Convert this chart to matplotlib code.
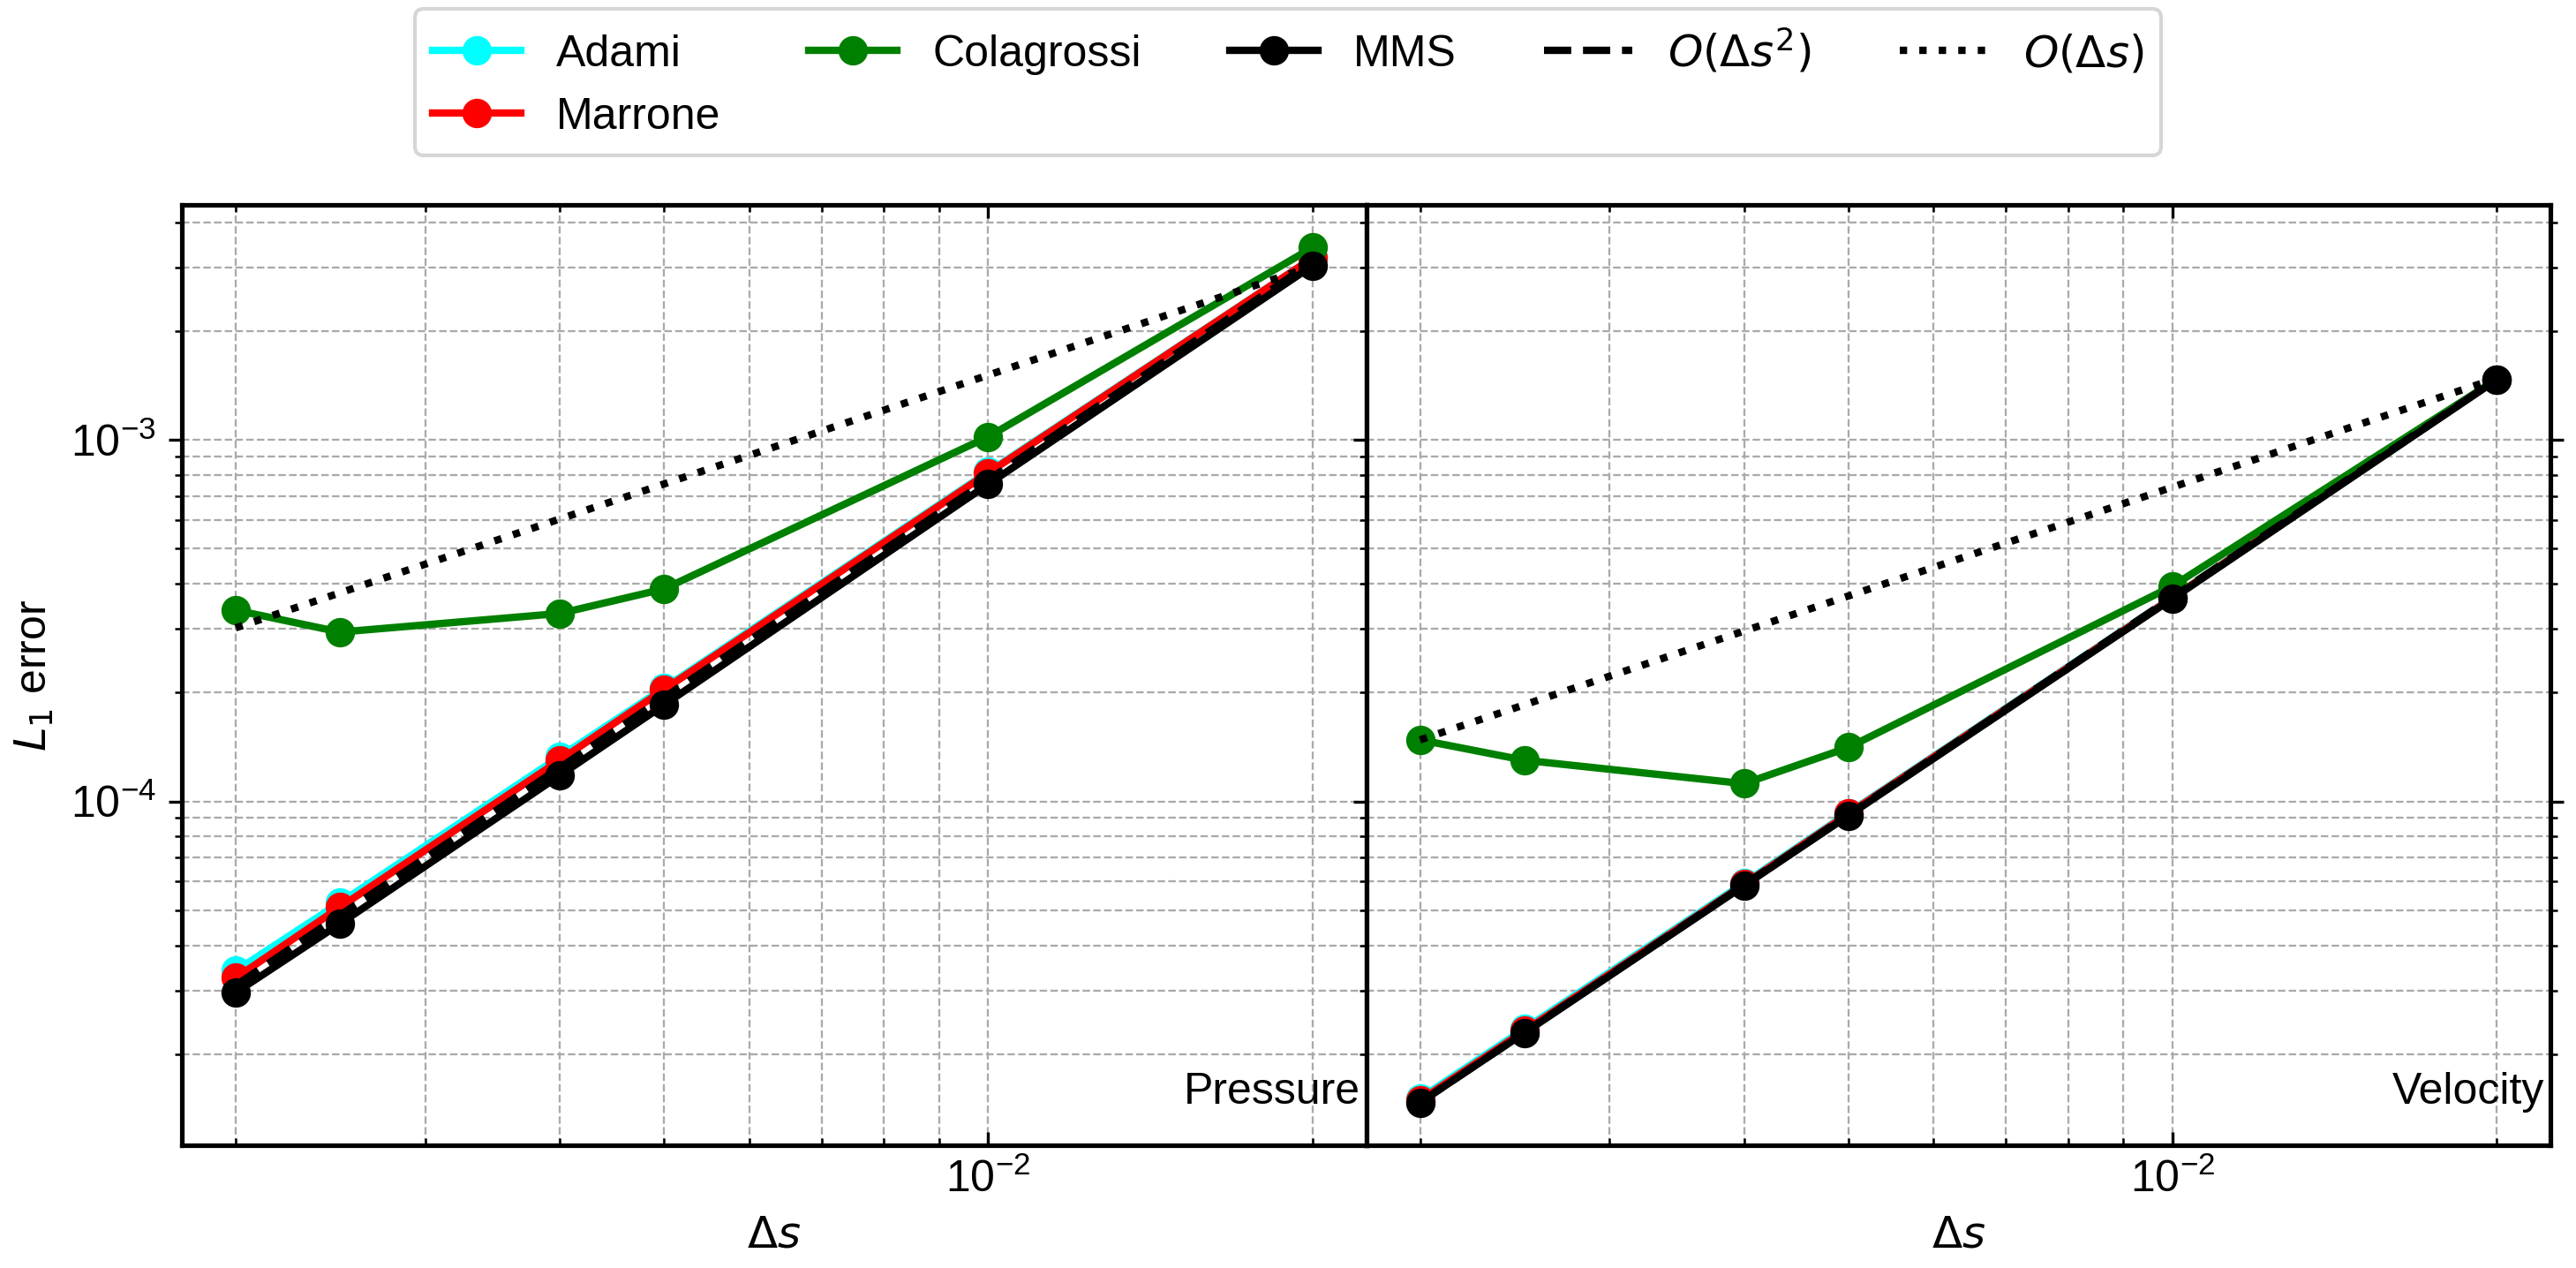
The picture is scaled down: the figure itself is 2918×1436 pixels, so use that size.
import matplotlib
matplotlib.use("Agg")
import matplotlib.pyplot as plt
from matplotlib.ticker import NullFormatter

plt.rcParams['font.family'] = ['Liberation Sans', 'DejaVu Sans']
plt.rcParams['font.size'] = 12
plt.rcParams['axes.linewidth'] = 1.25

# grid spacing used in the convergence study
ds = [0.002, 0.0025, 0.004, 0.005, 0.01, 0.02]

# pressure L1 errors
adami_p = [3.40e-5, 5.25e-5, 1.33e-4, 2.06e-4, 8.15e-4, 3.18e-3]
marrone_p = [3.25e-5, 5.10e-5, 1.30e-4, 2.04e-4, 8.10e-4, 3.18e-3]
colagrossi_p = [3.38e-4, 2.94e-4, 3.31e-4, 3.87e-4, 1.02e-3, 3.40e-3]
mms_p = [2.96e-5, 4.59e-5, 1.18e-4, 1.85e-4, 7.54e-4, 3.03e-3]

# velocity L1 errors
adami_v = [1.51e-5, 2.35e-5, 5.95e-5, 9.30e-5, 3.67e-4, 1.47e-3]
marrone_v = [1.49e-5, 2.32e-5, 5.90e-5, 9.25e-5, 3.66e-4, 1.47e-3]
colagrossi_v = [1.48e-4, 1.30e-4, 1.12e-4, 1.41e-4, 3.94e-4, 1.47e-3]
mms_v = [1.47e-5, 2.29e-5, 5.85e-5, 9.14e-5, 3.64e-4, 1.466e-3]

# reference slopes (end points)
ref_ds = [0.002, 0.02]
ref2_p = [3.10e-5, 3.10e-3]
ref1_p = [3.02e-4, 3.02e-3]
ref2_v = [1.47e-5, 1.47e-3]
ref1_v = [1.48e-4, 1.48e-3]

panels = [
    ("Pressure", adami_p, marrone_p, colagrossi_p, mms_p, ref2_p, ref1_p),
    ("Velocity", adami_v, marrone_v, colagrossi_v, mms_v, ref2_v, ref1_v),
]

fig, axes = plt.subplots(1, 2, figsize=(2918 / 300, 1436 / 300), dpi=300, sharey=True)
fig.subplots_adjust(left=0.0706, right=0.9901, bottom=0.0968, top=0.8384, wspace=0)

for ax, (name, ad, ma, co, mm, r2, r1) in zip(axes, panels):
    ax.loglog(ds, ad, '-o', color='cyan', lw=2, ms=7, label='Adami')
    ax.loglog(ds, ma, '-o', color='red', lw=2, ms=7, label='Marrone')
    ax.loglog(ds, co, '-o', color='green', lw=2, ms=7, label='Colagrossi')
    ax.loglog(ds, mm, '-o', color='black', lw=2, ms=7, label='MMS')
    ax.loglog(ref_ds, r2, '--', color='black', lw=2, label=r'$O(\Delta s^2)$')
    ax.loglog(ref_ds, r1, ':', color='black', lw=2, label=r'$O(\Delta s)$')

    ax.grid(True, which='both', linestyle='--', color='#aaaaaa', linewidth=0.55)
    ax.set_axisbelow(True)
    ax.xaxis.set_minor_formatter(NullFormatter())
    ax.tick_params(axis='x', which='both', direction='in', top=True)
    ax.set_xlabel(r'$\Delta s$')
    ax.text(0.995, 0.044, name, transform=ax.transAxes, ha='right', va='baseline')

axes[0].set_ylabel(r'$L_1$ error')
axes[1].tick_params(axis='y', which='both', right=True, labelleft=False)

handles, labels = axes[0].get_legend_handles_labels()
fig.legend(handles, labels, loc='upper center', bbox_to_anchor=(0.5, 1.0),
           ncol=5, borderaxespad=0.2)

fig.savefig('out.png', dpi=300)
